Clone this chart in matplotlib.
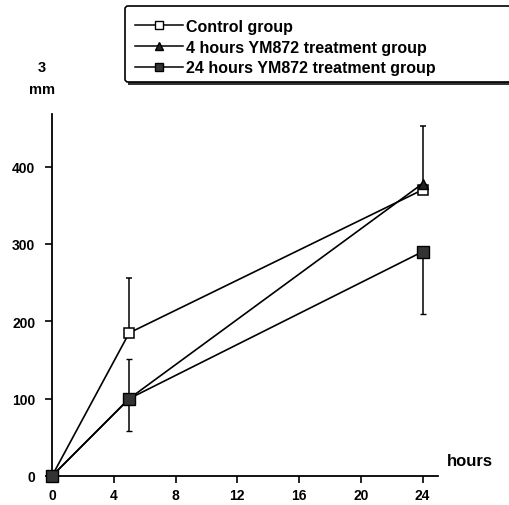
import matplotlib
matplotlib.use("Agg")
import matplotlib.pyplot as plt
from matplotlib.patches import FancyBboxPatch, Rectangle
from matplotlib.lines import Line2D
import numpy as np

plt.rcParams['font.family'] = ['Liberation Sans', 'DejaVu Sans']
plt.rcParams['font.weight'] = 'bold'

hours = [0, 5, 24]
control = [0, 185, 370]
control_err_up = [0, 71, 82]
control_err_dn = [0, 0, 0]
four_h = [0, 100, 378]
four_err_up = [0, 0, 0]
four_err_dn = [0, 0, 0]
day_24 = [0, 100, 290]
day_err_up = [0, 51, 0]
day_err_dn = [0, 42, 80]

x_ticks = [0, 4, 8, 12, 16, 20, 24]
y_ticks = [0, 100, 200, 300, 400]
labels = ["Control group", "4 hours YM872 treatment group", "24 hours YM872 treatment group"]

W, H = 509, 506
fig = plt.figure(figsize=(W/100, H/100), dpi=100)
ax = fig.add_axes([52/W, 1 - 477/H, 386/W, 362/H])
ax.set_xlim(0, 25)
ax.set_ylim(0, 468)

lw = 1.2
ax.errorbar(hours, control, yerr=[control_err_dn, control_err_up], color='black', lw=lw,
            marker='s', ms=7, mfc='white', mec='black', mew=1.1, capsize=2.5, elinewidth=1.1,
            clip_on=False, zorder=3)
ax.errorbar(hours, four_h, yerr=[four_err_dn, four_err_up], color='black', lw=lw,
            marker='^', ms=7, mfc='#222222', mec='black', mew=1.0, capsize=2.5, elinewidth=1.1,
            clip_on=False, zorder=4)
ax.errorbar(hours, day_24, yerr=[day_err_dn, day_err_up], color='black', lw=lw,
            marker='s', ms=8, mfc='#333333', mec='black', mew=1.0, capsize=2.5, elinewidth=1.1,
            clip_on=False, zorder=5)

for s in ['top', 'right']:
    ax.spines[s].set_visible(False)
for s in ['left', 'bottom']:
    ax.spines[s].set_linewidth(1.3)
ax.set_xticks(x_ticks)
ax.set_yticks(y_ticks)
ax.tick_params(direction='out', length=5, width=1.2, labelsize=10)
ax.tick_params(axis='x', pad=4)
ax.tick_params(axis='y', pad=7)
for t in ax.get_xticklabels() + ax.get_yticklabels():
    t.set_fontweight('bold')

fig.text(42/W, 1 - 68/H, "3", ha='center', va='center', fontsize=10.5, fontweight='bold')
fig.text(42/W, 1 - 90/H, "mm", ha='center', va='center', fontsize=10.5, fontweight='bold')
fig.text(470/W, 1 - 462/H, "hours", ha='center', va='center', fontsize=12, fontweight='bold')

# legend box with bottom shadow
box = FancyBboxPatch((125/W, 1 - 83/H), 400/W, 76/H, boxstyle='round,pad=0,rounding_size=0.006',
                     transform=fig.transFigure, fc='white', ec='black', lw=1.2, zorder=1)
fig.patches.append(box)
shadow = Rectangle((128/W, 1 - 86/H), 400/W, 3/H, transform=fig.transFigure,
                   fc='#333333', ec='none', zorder=0.9)
fig.patches.append(shadow)

handles = [
    Line2D([], [], color='black', lw=1.1, marker='s', ms=5.5, mfc='white', mec='black', mew=1.0),
    Line2D([], [], color='black', lw=1.1, marker='^', ms=6, mfc='#222222', mec='black'),
    Line2D([], [], color='black', lw=1.1, marker='s', ms=6, mfc='#333333', mec='black'),
]
leg = fig.legend(handles, labels, loc='upper left', bbox_to_anchor=(135/W, 1 - 20/H),
                 frameon=False, fontsize=11.5, handlelength=3.0, handletextpad=0.2,
                 labelspacing=0.35, borderpad=0, borderaxespad=0)
for t in leg.get_texts():
    t.set_fontweight('bold')

fig.savefig('out.png', dpi=100)
